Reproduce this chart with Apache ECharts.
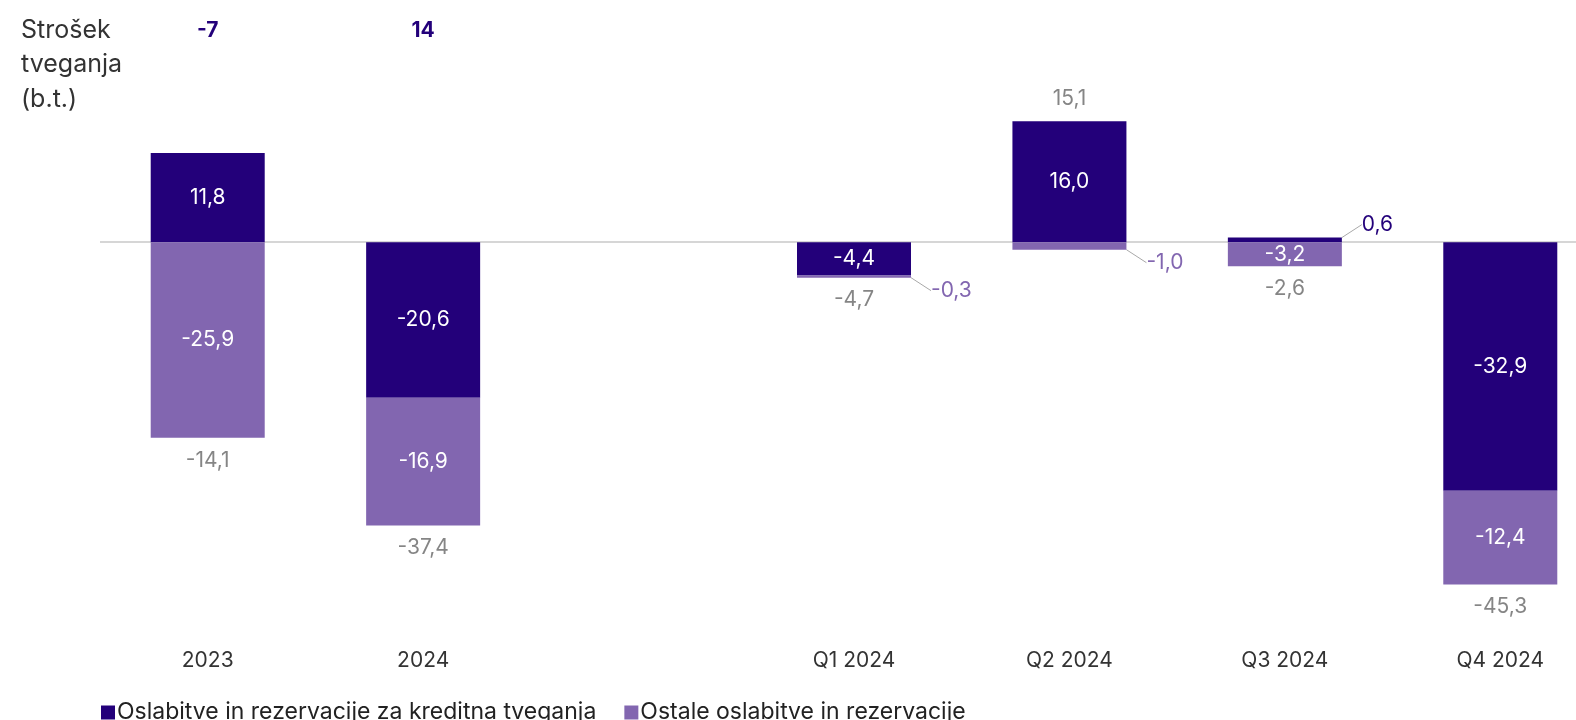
<!DOCTYPE html>
<html>
<head>
<meta charset="utf-8">
<script src="https://cdn.jsdelivr.net/npm/echarts@6/dist/echarts.min.js"></script>
<style>
  html, body { margin: 0; padding: 0; background: #fff; }
  #main { width: 1576px; height: 720px; }
</style>
</head>
<body>
<div id="main"></div>
<script>
var categories = ['2023', '2024', '', 'Q1 2024', 'Q2 2024', 'Q3 2024', 'Q4 2024'];
var costOfRisk = ['-7', '14', '', '', '', '', ''];          // b.t., zgoraj
var creditLoss = [11.8, -20.6, null, -4.4, 16.0, 0.6, -32.9];  // kreditna tveganja
var otherLoss = [-25.9, -16.9, null, -0.3, -1.0, -3.2, -12.4]; // ostale
var totals = [-14.1, -37.4, null, -4.7, 15.1, -2.6, -45.3];

var DARK = '#23007a';
var LIGHT = '#8266b0';
var GRAY = '#666666';
var FONT = 'Inter';

function fmt(v) {
  return v.toFixed(1).replace('.', ',');
}

// stacks with the same sign -> where the total label sits
var edges = totals.map(function (t, i) {
  if (t == null) return null;
  var a = creditLoss[i], b = otherLoss[i];
  if (t >= 0) return Math.max(a, 0) + Math.max(b, 0);
  return Math.min(a, 0) + Math.min(b, 0);
});

function barData(arr, color) {
  return arr.map(function (v) {
    if (v == null) return '-';
    if (Math.abs(v) < 1.5) {
      return { value: v, label: { position: 'right', color: color } };
    }
    return v;
  });
}

// small segments get a leader line and the label beside the bar
function smallLayout(params) {
  var s = params.seriesIndex === 0 ? creditLoss : otherLoss;
  var v = s[params.dataIndex];
  if (v == null || Math.abs(v) >= 1.5) return {};
  var r = params.rect;
  var cx = r.x + r.width;
  var cy = v > 0 ? Math.min(r.y, r.y + r.height) : Math.max(r.y, r.y + r.height);
  var ey = v > 0 ? cy - 13 : cy + 13;
  return {
    x: cx + 20,
    y: ey,
    align: 'left',
    verticalAlign: 'middle',
    labelLinePoints: [[cx, cy], [cx + 15, ey], [cx + 19, ey]]
  };
}

var chart = echarts.init(document.getElementById('main'));

chart.setOption({
  animation: false,
  textStyle: { fontFamily: FONT },
  title: {
    text: 'Strošek\ntveganja\n(b.t.)',
    left: 16,
    top: 8,
    textStyle: { fontFamily: FONT, fontSize: 25, fontWeight: 'normal', color: '#333', lineHeight: 34.5 }
  },
  legend: {
    left: 96,
    top: 696,
    itemWidth: 14,
    itemHeight: 14,
    itemGap: 28,
    icon: 'rect',
    textStyle: { fontFamily: FONT, fontSize: 23, color: '#222', padding: [0, 0, 0, -3] },
    data: ['Oslabitve in rezervacije za kreditna tveganja', 'Ostale oslabitve in rezervacije']
  },
  grid: { left: 100, top: 91, width: 1508, height: 529, outerBoundsMode: 'none' },
  xAxis: [
    {
      type: 'category',
      data: categories,
      position: 'bottom',
      axisLine: { show: false },
      axisTick: { show: false },
      axisLabel: { margin: 30, fontFamily: FONT, fontSize: 21, color: '#333' }
    },
    {
      type: 'category',
      data: costOfRisk,
      position: 'top',
      axisLine: { show: false },
      axisTick: { show: false },
      axisLabel: { margin: 50, fontFamily: FONT, fontSize: 21, fontWeight: 'bold', color: DARK }
    }
  ],
  yAxis: {
    type: 'value',
    min: -50,
    max: 20,
    show: false,
    splitLine: { show: false }
  },
  series: [
    {
      name: 'Oslabitve in rezervacije za kreditna tveganja',
      type: 'bar',
      stack: 'total',
      barWidth: 114,
      itemStyle: { color: DARK },
      data: barData(creditLoss, DARK),
      label: {
        show: true,
        position: 'inside',
        color: '#fff',
        fontFamily: FONT,
        fontSize: 21,
        formatter: function (p) { return fmt(p.value); }
      },
      labelLine: { show: true, lineStyle: { color: '#a8a8a8', width: 1 } },
      labelLayout: smallLayout,
      markLine: {
        silent: true,
        symbol: 'none',
        label: { show: false },
        lineStyle: { color: '#c8c8c8', width: 1.5, type: 'solid' },
        data: [{ yAxis: 0 }],
        z: 1
      }
    },
    {
      name: 'Ostale oslabitve in rezervacije',
      type: 'bar',
      stack: 'total',
      barWidth: 114,
      itemStyle: { color: LIGHT },
      data: barData(otherLoss, LIGHT),
      label: {
        show: true,
        position: 'inside',
        color: '#fff',
        fontFamily: FONT,
        fontSize: 21,
        formatter: function (p) { return fmt(p.value); }
      },
      labelLine: { show: true, lineStyle: { color: '#a8a8a8', width: 1 } },
      labelLayout: smallLayout
    },
    {
      name: 'total',
      type: 'scatter',
      symbolSize: 0,
      silent: true,
      data: edges.map(function (e, i) {
        if (e == null) return '-';
        return {
          value: e,
          label: { position: totals[i] >= 0 ? 'top' : 'bottom' }
        };
      }),
      label: {
        show: true,
        distance: 12,
        color: GRAY,
        fontFamily: FONT,
        fontSize: 21,
        formatter: function (p) { return fmt(totals[p.dataIndex]); }
      },
      z: 5
    }
  ]
});
</script>
</body>
</html>
